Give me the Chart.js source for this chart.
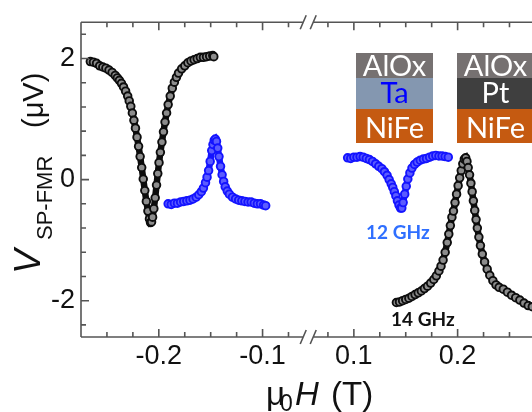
<!DOCTYPE html>
<html>
<head>
<meta charset="utf-8">
<script src="https://cdn.jsdelivr.net/npm/chart.js@4.4.1/dist/chart.umd.min.js"></script>
<style>
html, body { margin: 0; padding: 0; background: #fff; overflow: hidden; }
#wrap { position: relative; width: 532px; height: 412px; overflow: hidden; }
canvas { position: absolute; left: 0; top: 0; }
</style>
</head>
<body>
<div id="wrap"><canvas id="fmr" width="560" height="412"></canvas></div>
<script>
// 14 GHz (black), negative field
var h14Neg = [-0.266, -0.263, -0.260, -0.257, -0.254, -0.251, -0.248, -0.245, -0.242, -0.240,
    -0.238, -0.236, -0.234, -0.232, -0.230, -0.2285, -0.227, -0.2255, -0.224, -0.2225,
    -0.221, -0.2195, -0.218, -0.2165, -0.215, -0.2135, -0.212, -0.2105, -0.209, -0.208,
    -0.207, -0.206, -0.2048, -0.2035, -0.2022, -0.201, -0.1998, -0.1985, -0.197, -0.1955,
    -0.194, -0.1925, -0.191, -0.189, -0.187, -0.185, -0.183, -0.181, -0.178, -0.175,
    -0.172, -0.169, -0.166, -0.163, -0.160, -0.157, -0.154, -0.151, -0.148, -0.147];
var v14Neg = [1.95, 1.94, 1.92, 1.88, 1.86, 1.84, 1.81, 1.77, 1.72, 1.68,
    1.64, 1.59, 1.53, 1.46, 1.38, 1.30, 1.21, 1.10, 0.98, 0.85,
    0.70, 0.55, 0.38, 0.20, 0.01, -0.18, -0.36, -0.52, -0.65, -0.71,
    -0.70, -0.62, -0.48, -0.30, -0.09, 0.10, 0.28, 0.45, 0.62, 0.79,
    0.95, 1.10, 1.24, 1.38, 1.51, 1.61, 1.69, 1.76, 1.83, 1.88,
    1.93, 1.96, 1.98, 2.00, 2.02, 2.02, 2.03, 2.04, 2.05, 2.03];

// 14 GHz (black), positive field
var h14Pos = [0.141, 0.144, 0.147, 0.150, 0.153, 0.156, 0.159, 0.162, 0.165, 0.168,
    0.171, 0.174, 0.177, 0.1795, 0.182, 0.184, 0.186, 0.188, 0.190, 0.1915,
    0.193, 0.1945, 0.196, 0.1975, 0.199, 0.2005, 0.202, 0.2035, 0.205, 0.2065,
    0.2078, 0.209, 0.2102, 0.2115, 0.2128, 0.214, 0.2152, 0.2165, 0.2178, 0.219,
    0.2205, 0.222, 0.2238, 0.226, 0.2285, 0.231, 0.234, 0.237, 0.240, 0.244,
    0.248, 0.252, 0.256, 0.260, 0.264, 0.268, 0.272];
var v14Pos = [-2.03, -2.02, -2.00, -1.98, -1.96, -1.93, -1.90, -1.87, -1.84, -1.80,
    -1.76, -1.71, -1.65, -1.59, -1.51, -1.43, -1.33, -1.20, -1.04, -0.90,
    -0.76, -0.62, -0.52, -0.38, -0.24, -0.10, 0.03, 0.15, 0.26, 0.34,
    0.36, 0.30, 0.20, 0.08, -0.06, -0.20, -0.35, -0.51, -0.66, -0.80,
    -0.95, -1.09, -1.23, -1.36, -1.48, -1.58, -1.67, -1.74, -1.78, -1.81,
    -1.86, -1.91, -1.95, -1.99, -2.04, -2.08, -2.10];

// 12 GHz (blue), negative field
var h12Neg = [-0.191, -0.188, -0.185, -0.182, -0.179, -0.176, -0.173, -0.170, -0.167, -0.164,
    -0.1615, -0.159, -0.157, -0.155, -0.1535, -0.152, -0.1505, -0.149, -0.1478, -0.1466,
    -0.1455, -0.1444, -0.1432, -0.142, -0.1405, -0.139, -0.1375, -0.136, -0.134, -0.132,
    -0.129, -0.126, -0.123, -0.120, -0.117, -0.114, -0.111, -0.108, -0.105, -0.102,
    -0.099, -0.097];
var v12Neg = [-0.40, -0.41, -0.39, -0.39, -0.37, -0.36, -0.35, -0.34, -0.32, -0.29,
    -0.25, -0.20, -0.14, -0.05, 0.04, 0.15, 0.30, 0.48, 0.58, 0.65,
    0.67, 0.63, 0.52, 0.38, 0.22, 0.08, -0.03, -0.12, -0.19, -0.24,
    -0.29, -0.32, -0.34, -0.35, -0.36, -0.37, -0.37, -0.39, -0.40, -0.40,
    -0.42, -0.43];

// 12 GHz (blue), positive field
var h12Pos = [0.094, 0.097, 0.100, 0.103, 0.106, 0.109, 0.112, 0.115, 0.118, 0.121,
    0.124, 0.127, 0.1295, 0.132, 0.134, 0.136, 0.1375, 0.139, 0.1405, 0.142,
    0.1435, 0.145, 0.1462, 0.1475, 0.149, 0.1505, 0.152, 0.154, 0.156, 0.1585,
    0.161, 0.164, 0.167, 0.170, 0.173, 0.176, 0.179, 0.182, 0.185, 0.188,
    0.191];
var v12Pos = [0.36, 0.35, 0.37, 0.37, 0.38, 0.37, 0.35, 0.33, 0.30, 0.26,
    0.22, 0.18, 0.13, 0.07, 0.00, -0.07, -0.13, -0.20, -0.27, -0.35,
    -0.42, -0.47, -0.47, -0.38, -0.24, -0.11, 0.01, 0.11, 0.19, 0.25,
    0.29, 0.32, 0.34, 0.35, 0.37, 0.39, 0.40, 0.39, 0.39, 0.38,
    0.37];

var xTickValues = [-0.2, -0.1, 0.1, 0.2];
var xTickLabels = ['-0.2', '-0.1', '0.1', '0.2'];
var yTickValues = [-2, 0, 2];
var yTickLabels = ['-2', '0', '2'];
var stackTa = ['AlOx', 'Ta', 'NiFe'];
var stackPt = ['AlOx', 'Pt', 'NiFe'];
var freqLabels = ['12 GHz', '14 GHz'];

// broken axis: both branches are pulled towards zero
var gapShift = 0.056;
function toAxis(h) {
    return h < 0 ? h + gapShift : h - gapShift;
}
function pts(h, v) {
    return h.map(function (x, i) { return { x: toAxis(x), y: v[i] }; });
}

var sans = 'Arial, "Liberation Sans", sans-serif';
var axisColor = '#555';

function curve(data, dark, light) {
    return {
        data: data,
        showLine: true,
        borderColor: dark,
        borderWidth: 6.5,
        pointRadius: 3.8,
        pointBorderWidth: 1.9,
        pointBorderColor: dark,
        pointBackgroundColor: light
    };
}

var decor = {
    id: 'decor',
    afterDraw: function (chart) {
        var ctx = chart.ctx, a = chart.chartArea;
        var xs = chart.scales.x, ys = chart.scales.y;
        var bx = xs.getPixelForValue(0);
        ctx.save();
        ctx.strokeStyle = axisColor;
        ctx.lineWidth = 1.6;
        ctx.beginPath();
        ctx.moveTo(a.left, a.top);
        ctx.lineTo(a.left, a.bottom);
        [a.top, a.bottom].forEach(function (y) {
            ctx.moveTo(a.left, y); ctx.lineTo(bx - 5, y);
            ctx.moveTo(bx + 5, y); ctx.lineTo(a.right, y);
        });
        var ks = [];
        for (var k = -10; k <= -3; k++) ks.push(k);
        for (var k2 = 3; k2 <= 11; k2++) ks.push(k2);
        ks.forEach(function (k) {
            var px = xs.getPixelForValue(toAxis(k * 0.025));
            var len = k % 4 === 0 ? 8 : 5;
            ctx.moveTo(px, a.bottom); ctx.lineTo(px, a.bottom - len);
            ctx.moveTo(px, a.top); ctx.lineTo(px, a.top + len);
        });
        for (var j = -6; j <= 6; j++) {
            var py = ys.getPixelForValue(j * 0.4);
            var ln = j % 5 === 0 ? 8 : 5;
            ctx.moveTo(a.left, py); ctx.lineTo(a.left + ln, py);
        }
        [a.top, a.bottom].forEach(function (y) {
            ctx.moveTo(bx - 8, y + 7); ctx.lineTo(bx - 2, y - 7);
            ctx.moveTo(bx + 2, y + 7); ctx.lineTo(bx + 8, y - 7);
        });
        ctx.stroke();

        // axis titles
        ctx.fillStyle = '#111';
        ctx.textBaseline = 'alphabetic';
        ctx.textAlign = 'left';
        ctx.save();
        ctx.translate(40, 274);
        ctx.rotate(-Math.PI / 2);
        ctx.font = 'italic 37px ' + sans;
        ctx.fillText('V', 0, 0);
        ctx.font = '22px ' + sans;
        ctx.fillText('SP-FMR', 34, 12);
        ctx.font = '29px ' + sans;
        ctx.fillText('(\u03bcV)', 146, 3);
        ctx.restore();

        ctx.font = '33px ' + sans;
        ctx.fillText('\u03bc', 266, 405);
        ctx.font = '23px ' + sans;
        ctx.fillText('0', 280, 411);
        ctx.font = 'italic 33px ' + sans;
        ctx.fillText('H', 295, 405);
        ctx.font = '33px ' + sans;
        ctx.fillText('(T)', 331, 405);

        // layer stacks
        var rows = [[53, 25, 76], [78, 31, 103], [109, 34, 138]];
        var fills = [['#767171', '#8497b0', '#c55a11'], ['#767171', '#3f3f3f', '#c55a11']];
        var inks = [['#fff', '#0000ff', '#fff'], ['#fff', '#fff', '#fff']];
        [stackTa, stackPt].forEach(function (names, s) {
            var left = s === 0 ? 356 : 457;
            names.forEach(function (n, r) {
                ctx.fillStyle = fills[s][r];
                ctx.fillRect(left, rows[r][0], 77, rows[r][1]);
                ctx.fillStyle = inks[s][r];
                ctx.font = '29px Lato, "Open Sans", sans-serif';
                ctx.textAlign = 'center';
                ctx.fillText(n, left + 38.5, rows[r][2]);
            });
        });

        ctx.textAlign = 'left';
        ctx.font = 'bold 19px Lato, "Open Sans", sans-serif';
        ctx.fillStyle = '#2f6fff';
        ctx.fillText(freqLabels[0], 366, 239);
        ctx.fillStyle = '#111';
        ctx.fillText(freqLabels[1], 391, 326);
        ctx.restore();
    }
};

new Chart(document.getElementById('fmr'), {
    type: 'scatter',
    data: {
        datasets: [
            curve(pts(h14Neg, v14Neg), '#0d0d0d', '#8c8c8c'),
            curve(pts(h14Pos, v14Pos), '#0d0d0d', '#8c8c8c'),
            curve(pts(h12Neg, v12Neg), '#1414ff', '#5c5cff'),
            curve(pts(h12Pos, v12Pos), '#1414ff', '#5c5cff')
        ]
    },
    options: {
        responsive: false,
        animation: false,
        devicePixelRatio: 1,
        layout: { padding: { left: 0, top: 13, right: 0, bottom: 0 } },
        plugins: { legend: { display: false }, tooltip: { enabled: false } },
        scales: {
            x: {
                type: 'linear',
                min: -0.219,
                max: 0.237,
                grid: { display: false, drawTicks: false },
                border: { display: false },
                afterFit: function (s) { s.height = 75; },
                afterBuildTicks: function (s) {
                    s.ticks = xTickValues.map(function (v) { return { value: toAxis(v) }; });
                },
                ticks: {
                    padding: 3,
                    maxRotation: 0,
                    autoSkip: false,
                    color: '#111',
                    font: { family: sans, size: 27 },
                    callback: function (val, i) { return xTickLabels[i]; }
                }
            },
            y: {
                min: -2.6,
                max: 2.6,
                grid: { display: false, drawTicks: false },
                border: { display: false },
                afterFit: function (s) { s.width = 81; },
                afterBuildTicks: function (s) {
                    s.ticks = yTickValues.map(function (v) { return { value: v }; });
                },
                ticks: {
                    padding: 6,
                    color: '#111',
                    font: { family: sans, size: 27 },
                    callback: function (val, i) { return yTickLabels[i]; }
                }
            }
        }
    },
    plugins: [decor]
});
</script>
</body>
</html>
